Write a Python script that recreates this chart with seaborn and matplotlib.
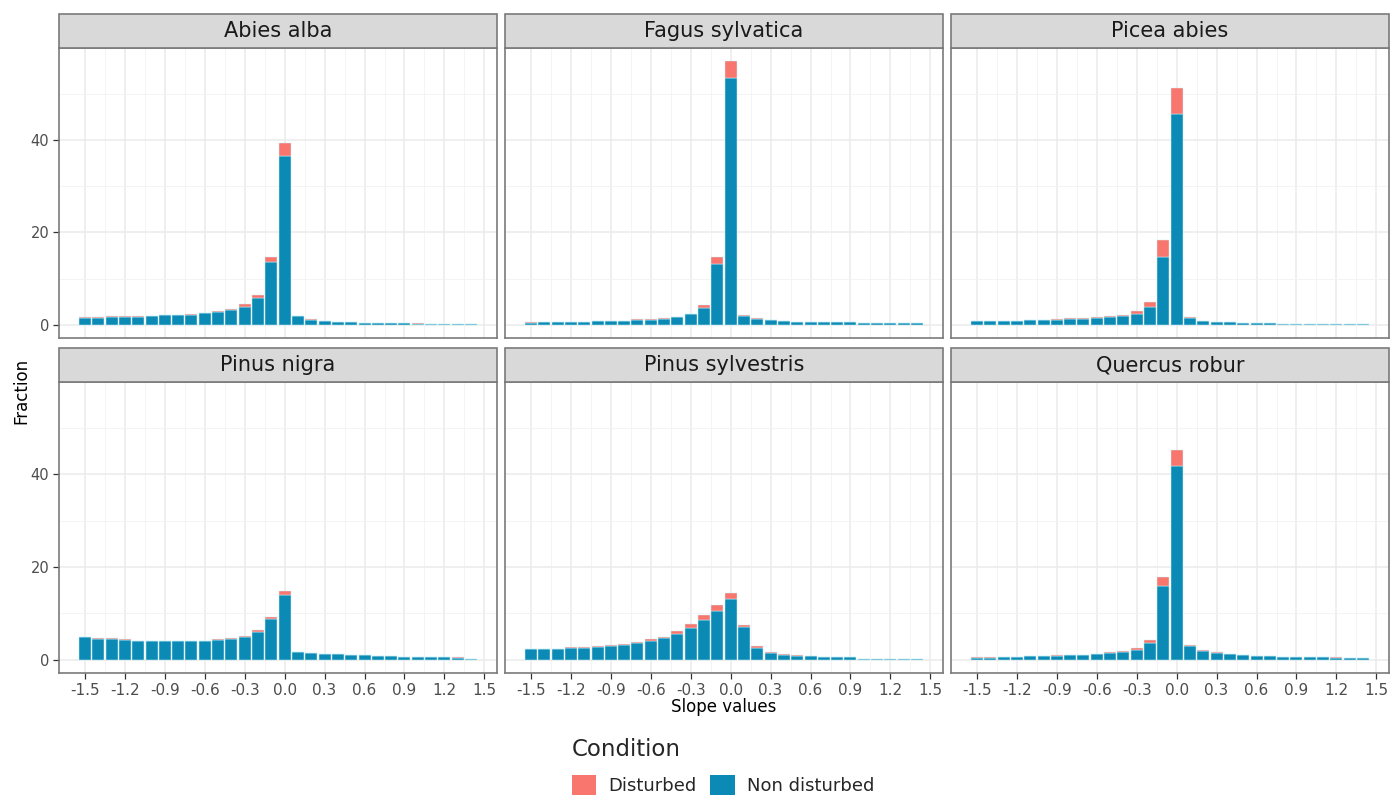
import numpy as np
import pandas as pd
import matplotlib
matplotlib.use("Agg")
import matplotlib.pyplot as plt
from matplotlib.patches import Patch, Rectangle
import seaborn as sns

# ---------------- data ----------------
species = ["Abies alba", "Fagus sylvatica", "Picea abies",
           "Pinus nigra", "Pinus sylvestris", "Quercus robur"]
conditions = ["Disturbed", "Non disturbed"]
slope_bins = [-1.5, -1.4, -1.3, -1.2, -1.1, -1.0, -0.9, -0.8, -0.7, -0.6,
              -0.5, -0.4, -0.3, -0.2, -0.1, 0.0, 0.1, 0.2, 0.3, 0.4,
              0.5, 0.6, 0.7, 0.8, 0.9, 1.0, 1.1, 1.2, 1.3, 1.4]
x_tick_labels = ["-1.5", "-1.2", "-0.9", "-0.6", "-0.3", "0.0",
                 "0.3", "0.6", "0.9", "1.2", "1.5"]
y_tick_labels = ["0", "20", "40"]

abies_nd = [1.55, 1.55, 1.75, 1.75, 1.75, 1.85, 2.05, 2.05, 2.2, 2.5, 2.8, 3.25, 3.8, 5.9, 13.5,
            36.6, 1.8, 1.1, 0.85, 0.65, 0.6, 0.47, 0.47, 0.47, 0.47, 0.25, 0.15, 0.15, 0.15, 0.1]
abies_d = [0.05, 0.05, 0.05, 0.05, 0.05, 0.05, 0.05, 0.05, 0.1, 0.1, 0.1, 0.15, 0.6, 0.6, 1.2,
           2.8, 0.1, 0.05, 0.05, 0.05, 0.05, 0.03, 0.03, 0.03, 0.03, 0.1, 0.0, 0.0, 0.0, 0.0]

fagus_nd = [0.5, 0.55, 0.55, 0.55, 0.55, 0.75, 0.75, 0.8, 1.05, 1.05, 1.3, 1.6, 2.25, 3.7, 13.1,
            53.3, 1.95, 1.3, 0.95, 0.8, 0.65, 0.65, 0.6, 0.52, 0.52, 0.5, 0.5, 0.5, 0.5, 0.5]
fagus_d = [0.15, 0.05, 0.05, 0.05, 0.05, 0.1, 0.1, 0.1, 0.1, 0.1, 0.1, 0.1, 0.15, 0.5, 1.5,
           3.8, 0.15, 0.1, 0.05, 0.1, 0.05, 0.05, 0.1, 0.03, 0.03, 0.0, 0.0, 0.0, 0.0, 0.0]

picea_nd = [0.88, 0.81, 0.81, 0.81, 0.97, 0.97, 1.05, 1.33, 1.33, 1.55, 1.7, 1.95, 2.4, 3.9, 14.6,
            45.6, 1.55, 0.88, 0.52, 0.52, 0.33, 0.33, 0.33, 0.15, 0.07, 0.07, 0.07, 0.07, 0.07, 0.07]
picea_d = [0.05, 0.05, 0.05, 0.05, 0.1, 0.1, 0.1, 0.1, 0.1, 0.1, 0.1, 0.15, 0.5, 1.0, 3.75,
           5.7, 0.1, 0.05, 0.05, 0.05, 0.03, 0.03, 0.03, 0.0, 0.0, 0.0, 0.0, 0.0, 0.0, 0.0]

nigra_nd = [4.8, 4.45, 4.4, 4.3, 4.05, 4.05, 4.05, 4.05, 4.05, 4.05, 4.25, 4.5, 4.9, 5.9, 8.75,
            13.9, 1.65, 1.45, 1.15, 1.15, 0.95, 0.95, 0.75, 0.75, 0.55, 0.54, 0.54, 0.54, 0.38, 0.15]
nigra_d = [0.1, 0.15, 0.3, 0.1, 0.1, 0.1, 0.1, 0.1, 0.1, 0.1, 0.15, 0.15, 0.3, 0.6, 0.45,
           0.9, 0.05, 0.05, 0.05, 0.05, 0.05, 0.05, 0.05, 0.05, 0.15, 0.03, 0.03, 0.03, 0.12, 0.0]

sylv_nd = [2.3, 2.3, 2.3, 2.5, 2.55, 2.75, 3.0, 3.2, 3.6, 4.0, 4.66, 5.6, 6.8, 8.6, 10.5,
           13.0, 7.0, 2.6, 1.55, 1.1, 0.85, 0.75, 0.55, 0.55, 0.55, 0.2, 0.2, 0.2, 0.2, 0.2]
sylv_d = [0.1, 0.1, 0.1, 0.2, 0.15, 0.15, 0.2, 0.3, 0.3, 0.5, 0.34, 0.6, 0.9, 1.15, 1.25,
          1.3, 0.5, 0.4, 0.15, 0.1, 0.08, 0.05, 0.02, 0.02, 0.02, 0.0, 0.0, 0.0, 0.0, 0.0]

quercus_nd = [0.4, 0.42, 0.6, 0.6, 0.78, 0.78, 0.86, 0.97, 0.97, 1.22, 1.52, 1.76, 2.2, 3.6, 15.8,
              41.7, 3.05, 1.9, 1.5, 1.2, 0.93, 0.8, 0.8, 0.55, 0.55, 0.55, 0.55, 0.45, 0.3, 0.3]
quercus_d = [0.1, 0.08, 0.05, 0.05, 0.08, 0.08, 0.07, 0.1, 0.1, 0.08, 0.08, 0.1, 0.4, 0.7, 2.05,
             3.5, 0.15, 0.1, 0.1, 0.1, 0.07, 0.06, 0.06, 0.02, 0.02, 0.02, 0.02, 0.12, 0.0, 0.0]

nd_values = [abies_nd, fagus_nd, picea_nd, nigra_nd, sylv_nd, quercus_nd]
d_values = [abies_d, fagus_d, picea_d, nigra_d, sylv_d, quercus_d]

# long table
rows = []
for sp, nd, d in zip(species, nd_values, d_values):
    for s, v in zip(slope_bins, d):
        rows.append((sp, s, "Disturbed", v))
    for s, v in zip(slope_bins, nd):
        rows.append((sp, s, "Non disturbed", v))
df = pd.DataFrame(rows, columns=["Species", "Slope", "Condition", "Fraction"])

# ---------------- style ----------------
palette = {"Disturbed": "#F8766D", "Non disturbed": "#0A8AB5"}
sns.set_theme(style="white")
plt.rcParams["font.family"] = ["DejaVu Sans"]
plt.rcParams["axes.unicode_minus"] = False

W, H = 1391, 797

g = sns.FacetGrid(df, col="Species", col_wrap=3, col_order=species,
                  sharex=True, sharey=True, height=3, aspect=1.5)
g.map_dataframe(sns.histplot, x="Slope", weights="Fraction", hue="Condition",
                hue_order=conditions, palette=palette, multiple="stack",
                binwidth=0.1, binrange=(-1.55, 1.45), shrink=0.9,
                edgecolor="#CDEFF7", linewidth=0.35, alpha=1.0, legend=False)
fig = g.figure
fig.set_size_inches(W / 100, H / 100)
fig.set_dpi(100)

col_left = [59, 505, 951]
panel_w = 438
row_top = [48, 382]
row_bot = [338, 673]
strip_h = 34

xt = [float(t) for t in x_tick_labels]
xminor = [(a + b) / 2 for a, b in zip(xt[:-1], xt[1:])]
yt = [float(t) for t in y_tick_labels]

for i, (ax, sp) in enumerate(zip(g.axes.flat, species)):
    r, c = divmod(i, 3)
    top, bot = row_top[r], row_bot[r]
    ax.set_position([col_left[c] / W, 1 - bot / H, panel_w / W, (bot - top) / H])
    ax.set_xlim(-1.695, 1.595)
    ax.set_ylim(-2.85, 59.85)
    ax.set_xticks(xt)
    ax.set_xticks(xminor, minor=True)
    ax.set_yticks(yt)
    ax.set_yticks([10, 30, 50], minor=True)
    ax.set_axisbelow(True)
    ax.grid(which="major", color="#EBEBEB", linewidth=1.1)
    ax.grid(which="minor", color="#F2F2F2", linewidth=0.6)
    ax.set_title("")
    ax.set_xlabel("")
    ax.set_ylabel("")
    for sp_ in ax.spines.values():
        sp_.set_visible(True)
        sp_.set_color("#7A7A7A")
        sp_.set_linewidth(1.2)
    ax.tick_params(which="minor", length=0)
    if r == 1:
        ax.set_xticklabels(x_tick_labels)
        ax.tick_params(axis="x", which="major", bottom=True, length=4, width=0.9,
                       color="#333333", labelsize=11, labelcolor="#4D4D4D", pad=3,
                       labelbottom=True)
    else:
        ax.tick_params(axis="x", which="major", length=0, labelbottom=False)
    if c == 0:
        ax.set_yticklabels(y_tick_labels)
        ax.tick_params(axis="y", which="major", left=True, length=4, width=0.9,
                       color="#333333", labelsize=10.5, labelcolor="#4D4D4D", pad=3,
                       labelleft=True)
    else:
        ax.tick_params(axis="y", which="major", length=0, labelleft=False)
    # strip
    sh = strip_h / (bot - top)
    rect = Rectangle((0, 1), 1, sh, transform=ax.transAxes, facecolor="#D9D9D9",
                     edgecolor="#7A7A7A", linewidth=1.2, clip_on=False, zorder=5)
    ax.add_patch(rect)
    ax.text(0.5, 1 + sh / 2, sp, transform=ax.transAxes, ha="center", va="center",
            fontsize=15, color="#1A1A1A", zorder=6)

fig.text(724 / W, 1 - 707 / H, "Slope values", ha="center", va="center",
         fontsize=12, color="#000000")
fig.text(21 / W, 1 - 391 / H, "Fraction", ha="center", va="center",
         rotation=90, fontsize=12, color="#000000")

handles = [Patch(facecolor=palette[k], edgecolor="none", label=k) for k in conditions]
leg = fig.legend(handles=handles, title="Condition", loc="upper left", ncol=2,
                 bbox_to_anchor=(568 / W, 1 - 734 / H), frameon=False,
                 fontsize=13, title_fontsize=16.5, handlelength=1.35,
                 handleheight=1.4, handletextpad=0.7, columnspacing=0.75,
                 borderaxespad=0, borderpad=0.2)
leg._legend_box.align = "left"
leg._legend_box.sep = 10

fig.savefig("out.png", dpi=100)
